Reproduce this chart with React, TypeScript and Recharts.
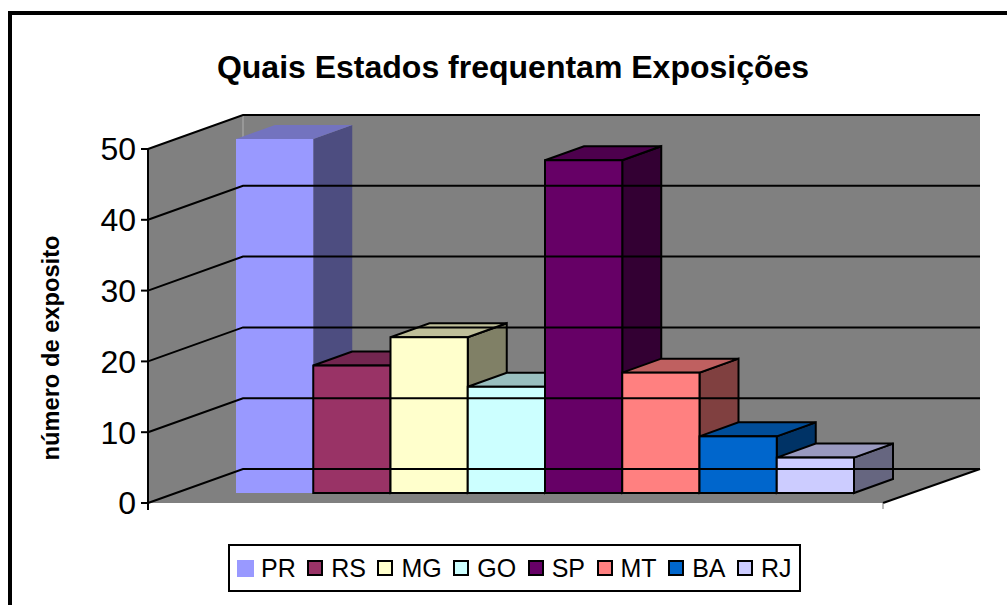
import { BarChart, Bar, XAxis, YAxis, Legend, ReferenceArea, ReferenceLine } from 'recharts';

const states = ['PR', 'RS', 'MG', 'GO', 'SP', 'MT', 'BA', 'RJ'];
const exhibitors = [50, 18, 22, 15, 47, 17, 8, 5];
const fills = ['#9999FF', '#993366', '#FFFFCC', '#CCFFFF', '#660066', '#FF8080', '#0066CC', '#CCCCFF'];
const tops = ['#7373BF', '#732650', '#BFBF99', '#99BFBF', '#4D004D', '#BF6060', '#004D99', '#9999BF'];
const sides = ['#4D4D80', '#4D1A33', '#808066', '#668080', '#330033', '#804040', '#003366', '#666680'];
const yTicks = [0, 10, 20, 30, 40, 50];

const row: Record<string, string | number> = { name: 'Estados' };
states.forEach((s, i) => {
  row[s] = exhibitors[i];
});
const data = [row];

const FONT = '"Liberation Sans", Arial, sans-serif';
const WALL = '#808080';
// perspective of the back wall and of the bars
const WALL_DX = 95;
const WALL_DY = -34;
const BAR_SHIFT_X = 29;
const BAR_SHIFT_Y = -10;
const BAR_DX = 39;
const BAR_DY = -14;

function WallAndFloor({ x, y, width, height }: any) {
  const bottom = y + height;
  const right = x + width;
  const pts = (p: number[][]) => p.map((q) => q.join(',')).join(' ');
  return (
    <g>
      <polygon
        points={pts([[x, y], [x + WALL_DX, y + WALL_DY], [right + WALL_DX + 2, y + WALL_DY], [right + WALL_DX + 2, bottom + WALL_DY], [x + WALL_DX, bottom + WALL_DY], [x, bottom]])}
        fill={WALL}
      />
      <polygon
        points={pts([[x, bottom], [x + WALL_DX, bottom + WALL_DY], [right + WALL_DX + 2, bottom + WALL_DY], [right, bottom]])}
        fill={WALL}
      />
      <line x1={x + WALL_DX} y1={y + WALL_DY} x2={x + WALL_DX} y2={bottom + WALL_DY} stroke="#b0b0b0" strokeWidth={1} />
      <line x1={right} y1={bottom} x2={right + WALL_DX + 2} y2={bottom + WALL_DY} stroke="#000" strokeWidth={2} />
      <line x1={x} y1={bottom} x2={x} y2={bottom + 7} stroke="#000" strokeWidth={2} />
      <line x1={right} y1={bottom} x2={right} y2={bottom + 6} stroke="#777" strokeWidth={1} />
    </g>
  );
}

function WallGridLine({ x1, y1, x2, y2 }: any) {
  return (
    <polyline
      points={`${x1},${y1} ${x1 + WALL_DX},${y1 + WALL_DY} ${x2 + WALL_DX + 2},${y2 + WALL_DY}`}
      fill="none"
      stroke="#000"
      strokeWidth={2}
    />
  );
}

function Box3D({ x, y, width, height, index }: any) {
  const left = x + BAR_SHIFT_X;
  const right = left + width;
  const top = y + BAR_SHIFT_Y;
  const bottom = top + height;
  const outlined = index > 0;
  const stroke = outlined ? '#000' : 'none';
  return (
    <g stroke={stroke} strokeWidth={2} strokeLinejoin="miter">
      <polygon
        points={`${right},${top} ${right + BAR_DX},${top + BAR_DY} ${right + BAR_DX},${bottom + BAR_DY} ${right},${bottom}`}
        fill={sides[index]}
      />
      <polygon
        points={`${left},${top} ${left + BAR_DX},${top + BAR_DY} ${right + BAR_DX},${top + BAR_DY} ${right},${top}`}
        fill={tops[index]}
      />
      <rect x={left} y={top} width={width} height={height} fill={fills[index]} />
    </g>
  );
}

function LegendBox({ payload }: any) {
  return (
    <div
      style={{
        boxSizing: 'border-box',
        width: 573,
        height: 48,
        border: '2px solid #000',
        background: '#fff',
        display: 'flex',
        alignItems: 'center',
        paddingLeft: 7,
        fontFamily: FONT,
        fontSize: 25,
        color: '#000',
      }}
    >
      {(payload || []).map((entry: any) => {
        const i = states.indexOf(entry.value);
        return (
          <span key={entry.value} style={{ display: 'flex', alignItems: 'center', marginRight: 11.5 }}>
            <span
              style={{
                boxSizing: 'border-box',
                display: 'inline-block',
                width: i === 0 ? 17 : 16,
                height: i === 0 ? 17 : 16,
                background: fills[i],
                border: i === 0 ? 'none' : '2px solid #000',
                marginRight: i === 0 ? 7 : 8,
              }}
            />
            {entry.value}
          </span>
        );
      })}
    </div>
  );
}

export default function App() {
  return (
    <div style={{ position: 'absolute', left: 0, top: 0, width: 1007, height: 605, overflow: 'hidden', background: '#fff' }}>
      <div style={{ position: 'absolute', left: 8, top: 11, width: 1100, height: 700, border: '4px solid #000' }} />
      <div
        style={{
          position: 'absolute',
          left: 13,
          width: 1000,
          top: 47,
          textAlign: 'center',
          fontFamily: FONT,
          fontWeight: 'bold',
          fontSize: 32,
          lineHeight: '40px',
          color: '#000',
        }}
      >
        Quais Estados frequentam Exposições
      </div>
      <BarChart
        width={1007}
        height={605}
        data={data}
        margin={{ top: 149, right: 124, bottom: 102, left: 88 }}
        barCategoryGap={58}
        barGap={0}
        style={{ position: 'absolute', left: 0, top: 0 }}
      >
        <ReferenceArea y1={0} y2={50} shape={WallAndFloor} ifOverflow="visible" />
        {yTicks.map((v) => (
          <ReferenceLine key={v} y={v} shape={WallGridLine} ifOverflow="visible" />
        ))}
        <XAxis dataKey="name" tick={false} tickLine={false} height={0} axisLine={{ stroke: '#000', strokeWidth: 2 }} />
        <YAxis
          domain={[0, 50]}
          ticks={yTicks}
          width={60}
          tickSize={7}
          tickMargin={5}
          tick={{ fill: '#000', fontFamily: FONT, fontSize: 32 }}
          tickLine={{ stroke: '#000', strokeWidth: 2 }}
          axisLine={{ stroke: '#000', strokeWidth: 2 }}
          label={{
            value: 'número de exposito',
            angle: -90,
            position: 'insideLeft',
            offset: 0,
            dx: -37,
            dy: 22,
            style: { textAnchor: 'middle', fontFamily: FONT, fontWeight: 'bold', fontSize: 23.7, fill: '#000' },
          }}
        />
        <Legend
          layout="horizontal"
          verticalAlign="middle"
          align="center"
          itemSorter={null}
          wrapperStyle={{ left: 228, top: 544, width: 573, height: 48 }}
          content={LegendBox}
        />
        {states.map((s, i) => (
          <Bar
            key={s}
            dataKey={s}
            fill={fills[i]}
            barSize={77.25}
            isAnimationActive={false}
            shape={(p: any) => <Box3D {...p} index={i} />}
          />
        ))}
      </BarChart>
    </div>
  );
}
